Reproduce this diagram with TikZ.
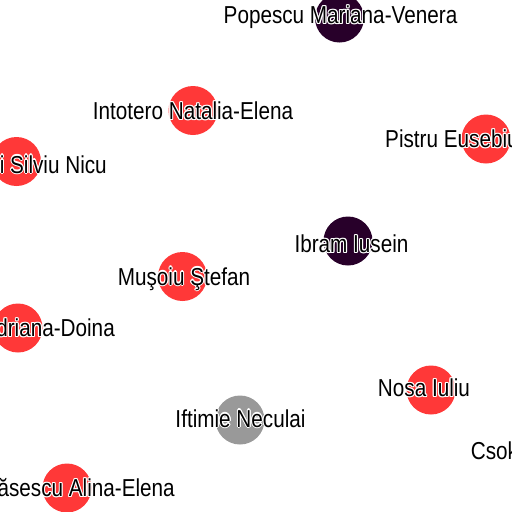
\documentclass[tikz,border=0pt]{standalone}
\usepackage{fontspec}
\newfontfamily\labfont{Liberation Sans}[FakeStretch=0.845]
\definecolor{nodered}{RGB}{255,56,56}
\definecolor{nodedark}{RGB}{40,0,42}
\definecolor{nodegray}{RGB}{153,153,153}
\newcommand\hcopy[2]{\rlap{\kern#1\raisebox{#2}{\textcolor{white}{\copy0}}}}
\newcommand\halo[1]{\setbox0\hbox{#1}\hcopy{1.1pt}{0pt}\hcopy{-1.1pt}{0pt}\hcopy{0pt}{1.1pt}\hcopy{0pt}{-1.1pt}\hcopy{.8pt}{.8pt}\hcopy{-.8pt}{.8pt}\hcopy{.8pt}{-.8pt}\hcopy{-.8pt}{-.8pt}\copy0}
\tikzset{
  dot/.style={circle, draw=none, minimum size=49pt, inner sep=0pt},
  lab/.style={inner sep=0pt, text=black, font=\labfont\fontsize{24.5}{24.5}\selectfont},
}
\begin{document}
\begin{tikzpicture}[x=1pt,y=-1pt]
\useasboundingbox (0,0) rectangle (512,512);
\fill[white] (0,0) rectangle (512,512);
\clip (0,0) rectangle (512,512);
% circles
\node[dot, fill=nodedark] (c1) at (339.5,18) {};
\node[dot, fill=nodered] (c2) at (193,110.5) {};
\node[dot, fill=nodered] (c3) at (16.5,161.5) {};
\node[dot, fill=nodered] (c4) at (486,139) {};
\node[dot, fill=nodedark] (c5) at (348,241) {};
\node[dot, fill=nodered] (c6) at (182.5,276.5) {};
\node[dot, fill=nodered] (c7) at (18,328) {};
\node[dot, fill=nodered] (c8) at (431,390) {};
\node[dot, fill=nodegray] (c9) at (240,420) {};
\node[dot, fill=nodered] (c11) at (67,488) {};
% labels
\node[lab, anchor=base] (t1) at (340.5,23.3) {\halo{Popescu Mariana-Venera}};
\node[lab, anchor=base] (t2) at (193,119.3) {\halo{Intotero Natalia-Elena}};
\node[lab, anchor=base east] (t3) at (107,173) {\halo{i Silviu Nicu}};
\node[lab, anchor=base west] (t4) at (385,147.7) {\halo{Pistru Eusebiu}};
\node[lab, anchor=base] (t5) at (351.5,252.7) {\halo{Ibram Iusein}};
\node[lab, anchor=base] (t6) at (184,285) {\halo{Muşoiu Ştefan}};
\node[lab, anchor=base east] (t7) at (115,336.7) {\halo{driana-Doina}};
\node[lab, anchor=base] (t8) at (424,396.7) {\halo{Nosa Iuliu}};
\node[lab, anchor=base] (t9) at (240.5,427) {\halo{Iftimie Neculai}};
\node[lab, anchor=base west] (t10) at (470.7,459) {\halo{Csok}};
\node[lab, anchor=base east] (t11) at (175,496.7) {\halo{ăsescu Alina-Elena}};
\end{tikzpicture}
\end{document}
